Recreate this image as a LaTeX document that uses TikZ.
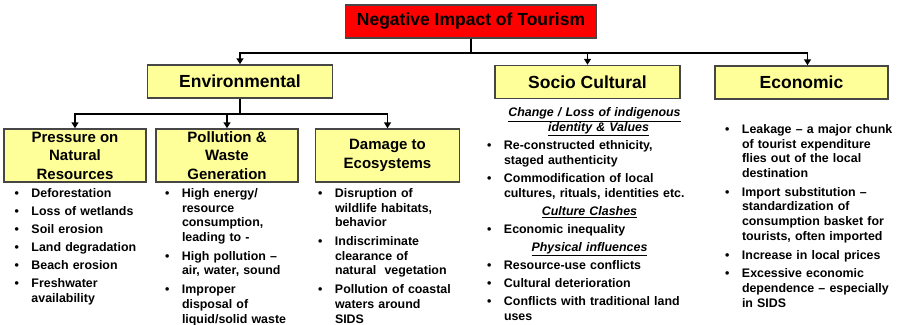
\documentclass[tikz,border=0pt]{standalone}
\usepackage{fontspec}
\setmainfont{Liberation Sans}
\usetikzlibrary{arrows.meta, positioning}
\definecolor{boxred}{RGB}{255,0,0}
\definecolor{boxyellow}{RGB}{255,255,153}
\definecolor{edgegray}{RGB}{70,70,70}
\newcommand{\bul}{\par\hangindent=17pt\hangafter=1\noindent\hbox to 17pt{\textbullet\hfil}}
\newcommand{\nl}{\hfil\break}
\newcommand{\subhd}[1]{\par{\centering\itshape #1\par}}

\begin{document}
\begin{tikzpicture}[x=1pt, y=-1pt,
    box/.style={draw=edgegray, line width=1.5pt, fill=boxyellow, font=\bfseries, align=center, inner sep=0pt},
    toplevel/.style={box, font=\bfseries\fontsize{17.5}{21}\selectfont, minimum height=33pt},
    sublevel/.style={box, font=\bfseries\fontsize{15}{18.5}\selectfont, minimum width=142pt, minimum height=53pt},
    bullets/.style={anchor=north west, inner sep=0pt, align=left, text width=#1,
      font=\bfseries\fontsize{12.4}{14.7}\selectfont,
      execute at begin node=\setlength{\parskip}{4pt}},
    tight/.style={execute at begin node=\setlength{\parskip}{3.4pt}},
    arr/.style={line width=1.5pt, -{Triangle[length=6pt, width=7pt]}}]
      \useasboundingbox (0,0) rectangle (899,324);

      % top of the tree
      \node[toplevel, fill=boxred, minimum width=251pt] (tourism) at (471,21.5) {Negative Impact of Tourism};
      \node[toplevel, minimum width=185pt] (env) at (240,81.5) {Environmental};
      \node[toplevel, minimum width=185pt] (socio) at (587.5,82) {Socio Cultural};
      \node[toplevel, minimum width=173pt] (econ) at (801.5,82.5) {Economic};

      \draw[arr] (tourism.south) -- ++(0,14) -| (env.north);
      \draw[arr] (tourism.south) -- ++(0,14) -| (socio.north);
      \draw[arr] (tourism.south) -- ++(0,14) -| ([xshift=6pt]econ.north);

      % environmental branch
      \node[sublevel] (pressure) at (75,155.5) {Pressure on\\Natural\\Resources};
      \node[sublevel] (pollution) at (227,155.5) {Pollution \&\\Waste\\Generation};
      \node[sublevel, minimum width=144pt] (damage) at (387.5,155.5) {Damage to\\Ecosystems};

      \draw[arr] (env.south) -- ++(0,15) -| (pressure.north);
      \draw[arr] (env.south) -- ++(0,15) -| (pollution.north);
      \draw[arr] (env.south) -- ++(0,15) -| (damage.north);

      \node[bullets=130pt, tight] (pressurelist) at (14.3,179) {%
        \bul Deforestation
        \bul Loss of wetlands
        \bul Soil erosion
        \bul Land degradation
        \bul Beach erosion
        \bul Freshwater\nl availability\par};
      \node[bullets=135pt] (pollutionlist) at (164.8,178.5) {%
        \bul High energy/\nl resource\nl consumption,\nl leading to -
        \bul High pollution --\nl air, water, sound
        \bul Improper\nl disposal of\nl liquid/solid waste\par};
      \node[bullets=140pt] (damagelist) at (317.8,178.5) {%
        \bul Disruption of\nl wildlife habitats,\nl behavior
        \bul Indiscriminate\nl clearance of\nl natural\ \ vegetation
        \bul Pollution of coastal\nl waters around\nl SIDS\par};

      % socio cultural and economic
      \node[bullets=205pt, tight] (sociolist) at (486.8,98.5) {%
        \subhd{\hspace*{10pt}\underline{Change / Loss of indigenous}\\\hspace*{18pt}\underline{identity \& Values}}
        \bul Re-constructed ethnicity,\nl staged authenticity
        \bul Commodification of local\nl cultures, rituals, identities etc.
        \subhd{\underline{Culture Clashes}}
        \bul Economic inequality
        \subhd{\underline{Physical influences}}
        \bul Resource-use conflicts
        \bul Cultural deterioration
        \bul Conflicts with traditional land\nl uses\par};
      \node[bullets=172pt] (econlist) at (724.8,114.5) {%
        \bul Leakage -- a major chunk\nl of tourist expenditure\nl flies out of the local\nl destination
        \bul Import substitution --\nl standardization of\nl consumption basket for\nl tourists, often imported
        \bul Increase in local prices
        \bul Excessive economic\nl dependence -- especially\nl in SIDS\par};
\end{tikzpicture}
\end{document}
